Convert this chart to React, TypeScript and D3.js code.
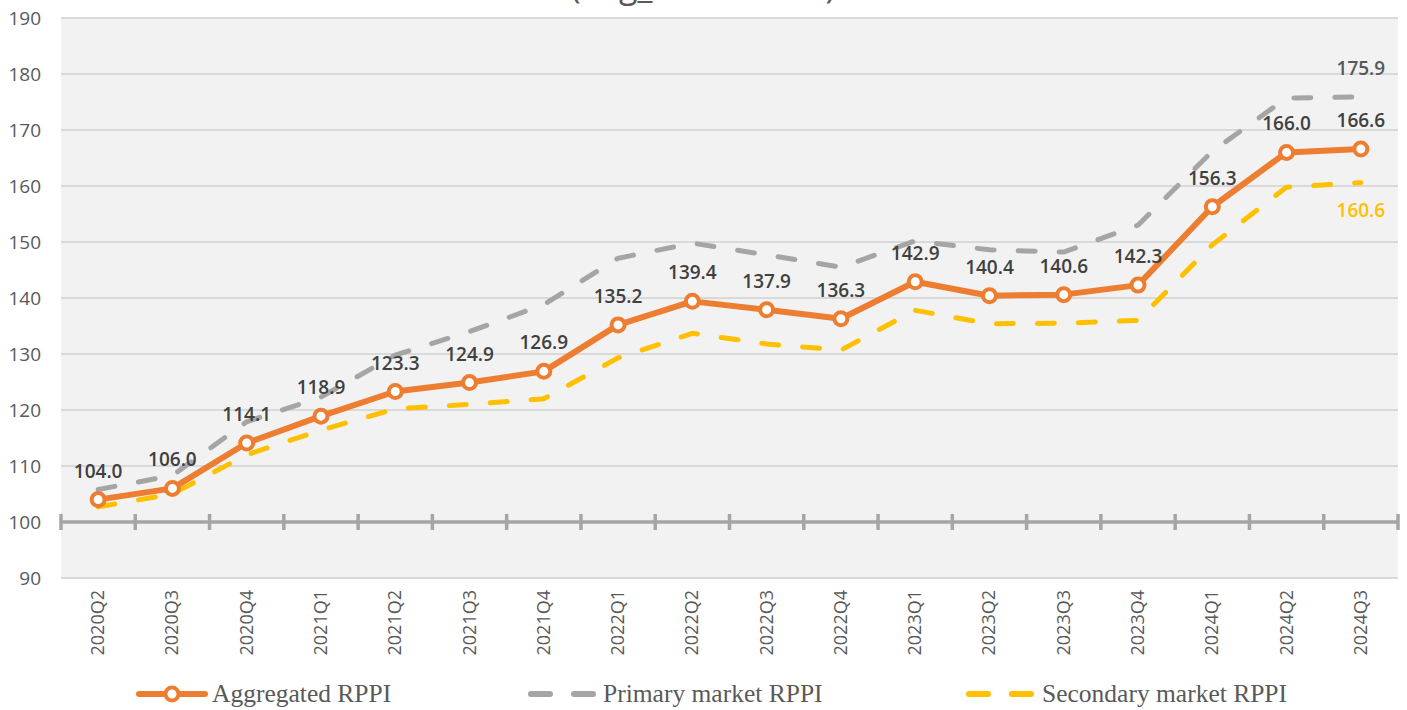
import React, { useEffect, useRef } from 'react';
import * as d3 from 'd3';

const quarters = [
  '2020Q2', '2020Q3', '2020Q4', '2021Q1', '2021Q2', '2021Q3', '2021Q4', '2022Q1', '2022Q2',
  '2022Q3', '2022Q4', '2023Q1', '2023Q2', '2023Q3', '2023Q4', '2024Q1', '2024Q2', '2024Q3',
];
const aggregated = [
  104.0, 106.0, 114.1, 118.9, 123.3, 124.9, 126.9, 135.2, 139.4,
  137.9, 136.3, 142.9, 140.4, 140.6, 142.3, 156.3, 166.0, 166.6,
];
const primary = [
  105.8, 108.3, 117.9, 122.3, 129.8, 134.0, 138.8, 147.1, 149.8,
  147.7, 145.5, 150.2, 148.6, 148.2, 153.0, 166.2, 175.7, 175.9,
];
const secondary = [
  102.7, 105.0, 112.0, 116.4, 120.2, 121.0, 122.0, 129.3, 133.7,
  131.8, 130.7, 137.8, 135.4, 135.5, 136.0, 149.5, 159.8, 160.6,
];
const yTicks = [90, 100, 110, 120, 130, 140, 150, 160, 170, 180, 190];

const ORANGE = '#ED7D31';
const GRAY = '#A5A5A5';
const YELLOW = '#FFC000';
const TEXT = '#595959';
const LABEL = '#404040';

export default function App() {
  const ref = useRef<SVGSVGElement>(null);

  useEffect(() => {
    const svg = d3.select(ref.current);
    svg.selectAll('*').remove();

    const width = 1407;
    const height = 710;
    const plot = { left: 61, right: 1398, top: 18, bottom: 578 };

    const x = d3.scaleBand().domain(quarters).range([plot.left, plot.right]);
    const cx = (i: number) => (x(quarters[i]) as number) + x.bandwidth() / 2;
    const y = d3.scaleLinear().domain([90, 190]).range([plot.bottom, plot.top]);

    // title, cropped at the top edge as in the source
    svg
      .append('text')
      .attr('x', 703)
      .attr('y', -2)
      .attr('text-anchor', 'middle')
      .attr('font-family', 'Open Sans, sans-serif')
      .attr('font-size', 34)
      .attr('fill', TEXT)
      .text('(Avg_2019 = 100)');

    // plot background
    svg
      .append('rect')
      .attr('x', plot.left)
      .attr('y', plot.top)
      .attr('width', plot.right - plot.left)
      .attr('height', plot.bottom - plot.top)
      .attr('fill', '#F2F2F2');

    // grid lines
    svg
      .append('g')
      .selectAll('line')
      .data(yTicks.filter((t) => t !== 100))
      .join('line')
      .attr('x1', plot.left)
      .attr('x2', plot.right)
      .attr('y1', (d) => y(d))
      .attr('y2', (d) => y(d))
      .attr('stroke', '#D9D9D9')
      .attr('stroke-width', 2);

    // y labels
    svg
      .append('g')
      .selectAll('text')
      .data(yTicks)
      .join('text')
      .attr('x', 41)
      .attr('y', (d) => y(d) + 7)
      .attr('text-anchor', 'end')
      .attr('font-family', 'Open Sans, sans-serif')
      .attr('font-size', 19)
      .attr('fill', TEXT)
      .text((d) => d);

    // category axis at 100
    const axisY = y(100);
    svg
      .append('line')
      .attr('x1', plot.left)
      .attr('x2', plot.right)
      .attr('y1', axisY)
      .attr('y2', axisY)
      .attr('stroke', GRAY)
      .attr('stroke-width', 3.5);

    const bounds = quarters.map((q) => x(q) as number).concat([plot.right]);
    svg
      .append('g')
      .selectAll('line')
      .data(bounds)
      .join('line')
      .attr('x1', (d) => d)
      .attr('x2', (d) => d)
      .attr('y1', axisY - 8)
      .attr('y2', axisY + 8)
      .attr('stroke', GRAY)
      .attr('stroke-width', 3.5);

    // x labels
    svg
      .append('g')
      .selectAll('text')
      .data(quarters)
      .join('text')
      .attr('transform', (d, i) => `translate(${cx(i) + 6},590) rotate(-90)`)
      .attr('text-anchor', 'end')
      .attr('font-family', 'Open Sans, sans-serif')
      .attr('font-size', 18)
      .attr('fill', TEXT)
      .text((d) => d);

    const line = d3
      .line<number>()
      .x((d, i) => cx(i))
      .y((d) => y(d));

    // primary
    svg
      .append('path')
      .datum(primary)
      .attr('d', line)
      .attr('fill', 'none')
      .attr('stroke', GRAY)
      .attr('stroke-width', 5)
      .attr('stroke-dasharray', '17,24')
      .attr('stroke-linecap', 'round');

    // secondary
    svg
      .append('path')
      .datum(secondary)
      .attr('d', line)
      .attr('fill', 'none')
      .attr('stroke', YELLOW)
      .attr('stroke-width', 5)
      .attr('stroke-dasharray', '17,24')
      .attr('stroke-linecap', 'round');

    // aggregated
    svg
      .append('path')
      .datum(aggregated)
      .attr('d', line)
      .attr('fill', 'none')
      .attr('stroke', ORANGE)
      .attr('stroke-width', 6)
      .attr('stroke-linejoin', 'round');

    svg
      .append('g')
      .selectAll('circle')
      .data(aggregated)
      .join('circle')
      .attr('cx', (d, i) => cx(i))
      .attr('cy', (d) => y(d))
      .attr('r', 6.5)
      .attr('fill', '#fff')
      .attr('stroke', ORANGE)
      .attr('stroke-width', 4);

    // data labels
    svg
      .append('g')
      .selectAll('text')
      .data(aggregated)
      .join('text')
      .attr('x', (d, i) => cx(i))
      .attr('y', (d) => y(d) - 22)
      .attr('text-anchor', 'middle')
      .attr('font-family', 'Open Sans, sans-serif')
      .attr('font-weight', 600)
      .attr('font-size', 19)
      .attr('fill', LABEL)
      .text((d) => d.toFixed(1));

    const last = quarters.length - 1;
    svg
      .append('text')
      .attr('x', cx(last))
      .attr('y', y(primary[last]) - 22)
      .attr('text-anchor', 'middle')
      .attr('font-family', 'Open Sans, sans-serif')
      .attr('font-weight', 600)
      .attr('font-size', 19)
      .attr('fill', TEXT)
      .text(primary[last].toFixed(1));

    svg
      .append('text')
      .attr('x', cx(last))
      .attr('y', y(secondary[last]) + 34)
      .attr('text-anchor', 'middle')
      .attr('font-family', 'Open Sans, sans-serif')
      .attr('font-weight', 600)
      .attr('font-size', 19)
      .attr('fill', YELLOW)
      .text(secondary[last].toFixed(1));

    // legend
    const ly = 694;
    const legend = svg.append('g');
    legend
      .append('line')
      .attr('x1', 139)
      .attr('x2', 205)
      .attr('y1', ly)
      .attr('y2', ly)
      .attr('stroke', ORANGE)
      .attr('stroke-width', 6)
      .attr('stroke-linecap', 'round');
    legend
      .append('circle')
      .attr('cx', 172)
      .attr('cy', ly)
      .attr('r', 6.5)
      .attr('fill', '#fff')
      .attr('stroke', ORANGE)
      .attr('stroke-width', 4);

    const dashLegend = (x0: number, color: string) => {
      legend
        .append('line')
        .attr('x1', x0)
        .attr('x2', x0 + 62)
        .attr('y1', ly)
        .attr('y2', ly)
        .attr('stroke', color)
        .attr('stroke-width', 6)
        .attr('stroke-dasharray', '19,24')
        .attr('stroke-linecap', 'round');
    };
    dashLegend(531, GRAY);
    dashLegend(969, YELLOW);

    const legendText = [
      { x: 212, t: 'Aggregated RPPI' },
      { x: 603, t: 'Primary market RPPI' },
      { x: 1042, t: 'Secondary market RPPI' },
    ];
    legend
      .selectAll('text')
      .data(legendText)
      .join('text')
      .attr('x', (d) => d.x)
      .attr('y', ly + 8)
      .attr('font-family', 'Liberation Serif, serif')
      .attr('font-size', 25.5)
      .attr('fill', TEXT)
      .text((d) => d.t);

    svg.attr('width', width).attr('height', height);
  }, []);

  return (
    <svg
      ref={ref}
      width={1407}
      height={710}
      style={{ position: 'absolute', left: 0, top: 0, background: '#fff' }}
    />
  );
}
